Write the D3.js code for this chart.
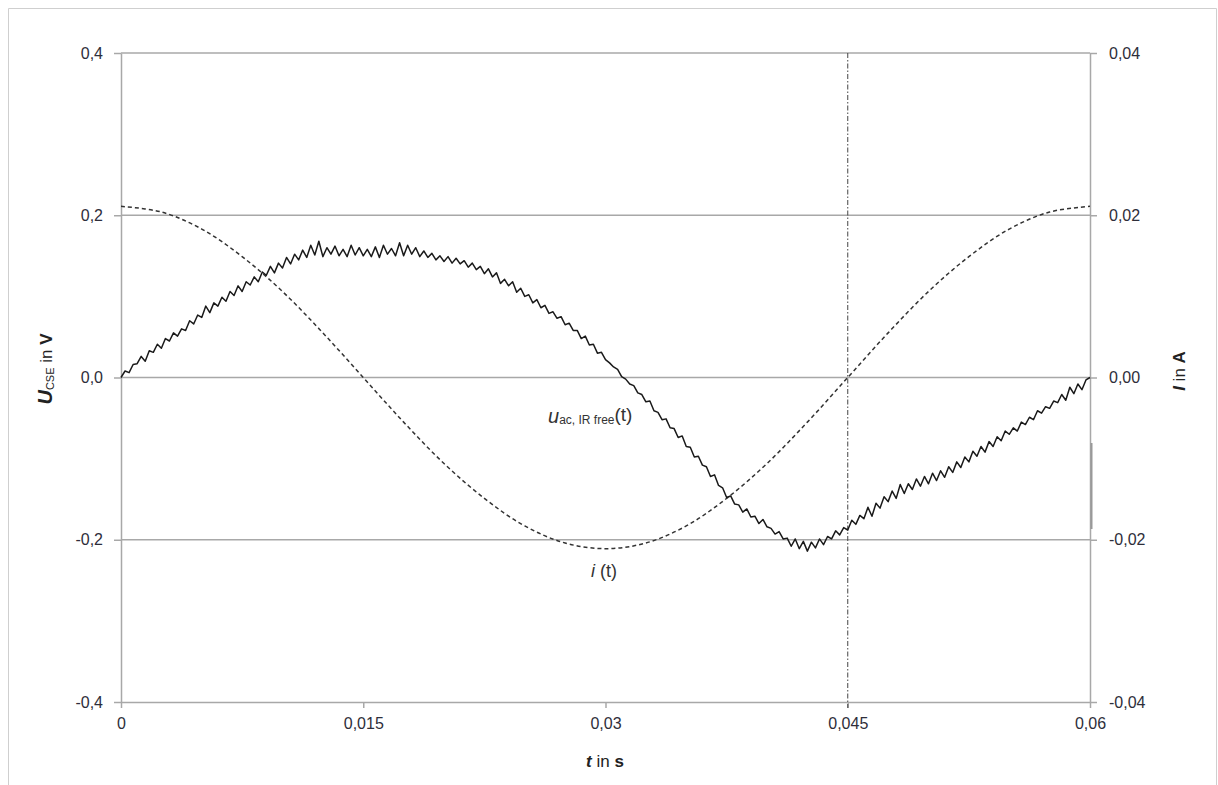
<!DOCTYPE html>
<html>
<head>
<meta charset="utf-8">
<script src="https://cdn.jsdelivr.net/npm/d3@7"></script>
<style>
	body { margin: 0; background: #fff; }
	svg { font-family: "Liberation Sans", Arial, sans-serif; }
	.tick text { fill: #2e2e3a; font-size: 16px; }
</style>
</head>
<body>
<svg id="chart" width="1218" height="785"></svg>
<script>
// sample step of the measured voltage (s)
let DT = 0.00025

// u_ac, IR free (t) in V, one value per DT from t = 0 to 0.06
let uValues = [
	0.000, 0.008, 0.006, 0.016, 0.017, 0.026, 0.020, 0.033, 0.031, 0.041,
	0.036, 0.048, 0.045, 0.055, 0.051, 0.060, 0.058, 0.070, 0.066, 0.077,
	0.074, 0.088, 0.080, 0.092, 0.088, 0.099, 0.094, 0.106, 0.101, 0.113,
	0.106, 0.118, 0.114, 0.124, 0.118, 0.130, 0.126, 0.137, 0.129, 0.141,
	0.135, 0.148, 0.140, 0.152, 0.145, 0.157, 0.148, 0.163, 0.151, 0.168,
	0.149, 0.160, 0.152, 0.162, 0.150, 0.158, 0.149, 0.163, 0.151, 0.160,
	0.150, 0.158, 0.149, 0.161, 0.148, 0.163, 0.152, 0.159, 0.150, 0.166,
	0.150, 0.163, 0.152, 0.160, 0.149, 0.156, 0.148, 0.153, 0.145, 0.150,
	0.143, 0.149, 0.141, 0.147, 0.140, 0.144, 0.136, 0.141, 0.133, 0.137,
	0.128, 0.134, 0.124, 0.129, 0.116, 0.121, 0.113, 0.118, 0.105, 0.110,
	0.100, 0.102, 0.092, 0.096, 0.086, 0.089, 0.079, 0.081, 0.073, 0.075,
	0.065, 0.067, 0.058, 0.058, 0.048, 0.051, 0.040, 0.041, 0.030, 0.031,
	0.022, 0.018, 0.013, 0.010, 0.001, -0.002, -0.008, -0.010, -0.019, -0.021,
	-0.030, -0.029, -0.041, -0.043, -0.052, -0.051, -0.062, -0.063, -0.074, -0.072,
	-0.085, -0.086, -0.098, -0.097, -0.108, -0.110, -0.122, -0.120, -0.133, -0.136,
	-0.148, -0.146, -0.156, -0.157, -0.166, -0.162, -0.172, -0.171, -0.180, -0.175,
	-0.184, -0.186, -0.193, -0.190, -0.199, -0.198, -0.208, -0.199, -0.211, -0.202,
	-0.214, -0.203, -0.210, -0.199, -0.206, -0.196, -0.199, -0.189, -0.194, -0.185,
	-0.188, -0.176, -0.181, -0.170, -0.174, -0.160, -0.171, -0.155, -0.161, -0.147,
	-0.153, -0.140, -0.149, -0.132, -0.143, -0.131, -0.138, -0.125, -0.134, -0.122,
	-0.131, -0.118, -0.127, -0.115, -0.123, -0.110, -0.117, -0.104, -0.111, -0.098,
	-0.104, -0.091, -0.097, -0.085, -0.092, -0.079, -0.085, -0.073, -0.078, -0.066,
	-0.070, -0.062, -0.066, -0.055, -0.058, -0.049, -0.052, -0.041, -0.044, -0.036,
	-0.038, -0.029, -0.031, -0.021, -0.028, -0.012, -0.020, -0.008, -0.015, -0.003,
	0.000
]

// i(t) in A
let iTimes = [0, 0.0025, 0.005, 0.0075, 0.01, 0.0125, 0.015, 0.0175, 0.02, 0.0225,
	0.025, 0.0275, 0.03, 0.0325, 0.035, 0.0375, 0.04, 0.0425, 0.045, 0.0475,
	0.05, 0.0525, 0.055, 0.0575, 0.06]
let iValues = [0.0211, 0.0204, 0.0183, 0.0149, 0.0106, 0.0055, 0, -0.0055, -0.0106, -0.0149,
	-0.0183, -0.0204, -0.0211, -0.0204, -0.0183, -0.0149, -0.0106, -0.0055, 0, 0.0055,
	0.0106, 0.0149, 0.0183, 0.0204, 0.0211]

let xTicks = [0, 0.015, 0.03, 0.045, 0.06]
let uTicks = [-0.4, -0.2, 0, 0.2, 0.4]
let iTicks = [-0.04, -0.02, 0, 0.02, 0.04]
let gridValues = [0.4, 0.2, 0, -0.2]
let markerTime = 0.045

let PLOT = { left: 121, right: 1090, top: 53, bottom: 702 }
let GRID_COLOR = '#a8a8a8'

let locale = d3.formatLocale({ decimal: ',', thousands: '.', grouping: [3], currency: ['', ''], minus: '-' })

let svg = d3.select('#chart')

// outer frame (no bottom edge visible)
svg.append('path')
	.attr('d', 'M 8.5 785 L 8.5 8.5 L 1216.5 8.5 L 1216.5 785')
	.attr('fill', 'none')
	.attr('stroke', '#cfcfcf')

let x = d3.scaleLinear().domain([0, 0.06]).range([PLOT.left, PLOT.right])
let yU = d3.scaleLinear().domain([-0.4, 0.4]).range([PLOT.bottom, PLOT.top])
let yI = d3.scaleLinear().domain([-0.04, 0.04]).range([PLOT.bottom, PLOT.top])

// grid lines
svg.append('g')
	.selectAll('line')
	.data(gridValues)
	.join('line')
		.attr('x1', PLOT.left)
		.attr('x2', PLOT.right)
		.attr('y1', (d) => yU(d))
		.attr('y2', (d) => yU(d))
		.attr('stroke', GRID_COLOR)
		.attr('stroke-width', 1.5)

function styleAxis(g) {
	g.select('.domain').attr('stroke', GRID_COLOR).attr('stroke-width', 1.5)
	g.selectAll('.tick line').attr('stroke', GRID_COLOR).attr('stroke-width', 1.5)
	g.attr('font-family', null).attr('font-size', null)
}

svg.append('g')
	.attr('transform', `translate(${PLOT.left}, 0)`)
	.call(d3.axisLeft(yU).tickValues(uTicks).tickFormat(locale.format('.1f')).tickSize(7).tickSizeOuter(0).tickPadding(11))
	.call(styleAxis)

svg.append('g')
	.attr('transform', `translate(${PLOT.right}, 0)`)
	.call(d3.axisRight(yI).tickValues(iTicks).tickFormat(locale.format('.2f')).tickSize(7).tickSizeOuter(0).tickPadding(12))
	.call(styleAxis)

svg.append('g')
	.attr('transform', `translate(0, ${PLOT.bottom})`)
	.call(d3.axisBottom(x).tickValues(xTicks).tickFormat(locale.format('.3~f')).tickSize(6).tickSizeOuter(0).tickPadding(10))
	.call(styleAxis)

// small darker segment on the right axis
svg.append('line')
	.attr('x1', PLOT.right + 1.5).attr('x2', PLOT.right + 1.5)
	.attr('y1', 443).attr('y2', 529)
	.attr('stroke', '#999')
	.attr('stroke-width', 2)

// marker at t = 0.045
svg.append('line')
	.attr('x1', x(markerTime)).attr('x2', x(markerTime))
	.attr('y1', PLOT.top).attr('y2', PLOT.bottom + 6)
	.attr('stroke', '#444')
	.attr('stroke-width', 1)
	.attr('stroke-dasharray', '5,2,1.5,2')

// i(t)
let iLine = d3.line()
	.x((d, k) => x(iTimes[k]))
	.y((d) => yI(d))
	.curve(d3.curveCatmullRom)

svg.append('path')
	.attr('d', iLine(iValues))
	.attr('fill', 'none')
	.attr('stroke', '#333')
	.attr('stroke-width', 1.5)
	.attr('stroke-dasharray', '4,3')

// u(t)
let uLine = d3.line()
	.x((d, k) => x(k * DT))
	.y((d) => yU(d))

svg.append('path')
	.attr('d', uLine(uValues))
	.attr('fill', 'none')
	.attr('stroke', '#1a1a1a')
	.attr('stroke-width', 1.5)
	.attr('stroke-linejoin', 'round')

// curve labels
let uLabel = svg.append('text')
	.attr('x', 548)
	.attr('y', 423)
	.attr('fill', '#333')
uLabel.append('tspan').attr('font-style', 'italic').attr('font-size', 20).text('u')
uLabel.append('tspan').attr('font-size', 12).attr('dy', 1).text('ac, IR free')
uLabel.append('tspan').attr('font-size', 19).attr('dy', -3).text('(t)')

let iLabel = svg.append('text')
	.attr('x', 591)
	.attr('y', 577)
	.attr('fill', '#333')
iLabel.append('tspan').attr('font-style', 'italic').attr('font-size', 18).text('i')
iLabel.append('tspan').attr('font-size', 18).text(' (t)')

// axis titles
let xTitle = svg.append('text')
	.attr('x', 605)
	.attr('y', 767)
	.attr('text-anchor', 'middle')
	.attr('font-size', 17)
	.attr('fill', '#222')
xTitle.append('tspan').attr('font-weight', 'bold').attr('font-style', 'italic').text('t')
xTitle.append('tspan').text(' in ')
xTitle.append('tspan').attr('font-weight', 'bold').text('s')

let uTitle = svg.append('text')
	.attr('transform', 'translate(52, 369) rotate(-90)')
	.attr('text-anchor', 'middle')
	.attr('font-size', 17)
	.attr('fill', '#222')
uTitle.append('tspan').attr('font-weight', 'bold').attr('font-style', 'italic').attr('font-size', 20).text('U')
uTitle.append('tspan').attr('font-size', 11).attr('dy', 2).text('CSE')
uTitle.append('tspan').attr('dy', -2).text(' in ')
uTitle.append('tspan').attr('font-weight', 'bold').text('V')

let iTitle = svg.append('text')
	.attr('transform', 'translate(1185, 371) rotate(-90)')
	.attr('text-anchor', 'middle')
	.attr('font-size', 17)
	.attr('fill', '#222')
iTitle.append('tspan').attr('font-weight', 'bold').attr('font-style', 'italic').text('I')
iTitle.append('tspan').text(' in ')
iTitle.append('tspan').attr('font-weight', 'bold').text('A')
</script>
</body>
</html>
